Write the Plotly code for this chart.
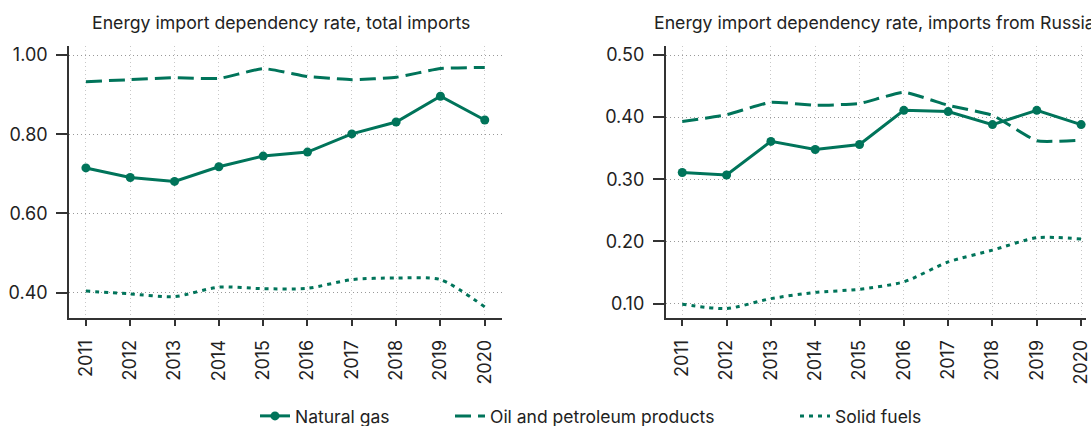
import plotly.graph_objects as go

# Years on the x axis
years = [2011, 2012, 2013, 2014, 2015, 2016, 2017, 2018, 2019, 2020]

# Energy import dependency rate, total imports
total_gas = [0.715, 0.691, 0.681, 0.718, 0.745, 0.755, 0.801, 0.831, 0.896, 0.836]
total_oil = [0.933, 0.938, 0.943, 0.941, 0.966, 0.946, 0.938, 0.944, 0.966, 0.969]
total_solid = [0.404, 0.397, 0.390, 0.414, 0.410, 0.411, 0.433, 0.437, 0.433, 0.364]

# Energy import dependency rate, imports from Russia
russia_gas = [0.311, 0.307, 0.361, 0.348, 0.356, 0.411, 0.409, 0.388, 0.411, 0.388]
russia_oil = [0.393, 0.404, 0.424, 0.419, 0.422, 0.440, 0.419, 0.403, 0.362, 0.363]
russia_solid = [0.099, 0.092, 0.108, 0.118, 0.123, 0.135, 0.167, 0.186, 0.206, 0.204]

series_names = ["Natural gas", "Oil and petroleum products", "Solid fuels"]
panel_titles = [
    "Energy import dependency rate, total imports",
    "Energy import dependency rate, imports from Russia",
]

W, H = 1091, 426
GREEN = "#00745a"
TEXT = "#222222"
FONT = "Inter, Liberation Sans, Arial, sans-serif"

fig = go.Figure()


def add_panel(gas, oil, solid, xa, ya, show):
    fig.add_trace(go.Scatter(
        x=years, y=gas, name=series_names[0], mode="lines+markers",
        line=dict(color=GREEN, width=3), marker=dict(size=9, color=GREEN),
        xaxis=xa, yaxis=ya, showlegend=show, legend="legend"))
    fig.add_trace(go.Scatter(
        x=years, y=oil, name=series_names[1], mode="lines",
        line=dict(color=GREEN, width=3, dash="16px,7px", shape="spline", smoothing=0.4),
        xaxis=xa, yaxis=ya, showlegend=show, legend="legend2"))
    fig.add_trace(go.Scatter(
        x=years, y=solid, name=series_names[2], mode="lines",
        line=dict(color=GREEN, width=3, dash="4px,5px", shape="spline", smoothing=0.7),
        xaxis=xa, yaxis=ya, showlegend=show, legend="legend3"))


add_panel(total_gas, total_oil, total_solid, "x", "y", True)
add_panel(russia_gas, russia_oil, russia_solid, "x2", "y2", False)

top, bottom = 46, 108
plot_h = H - top - bottom

xcommon = dict(
    tickmode="array", tickvals=years, ticktext=[str(y) for y in years],
    tickangle=-90, ticks="outside", ticklen=6, tickwidth=1.5, tickcolor="#333333",
    showline=True, linecolor="#333333", linewidth=1.5,
    showgrid=True, gridcolor="#c8c8c8", gridwidth=1, griddash="1px,3px",
    zeroline=False, tickfont=dict(size=18, color=TEXT, family=FONT),
    ticklabelstandoff=7, ticklabeloverflow="allow",
)
ycommon = dict(
    tickformat=".2f", ticks="outside", ticklen=11, tickwidth=1.5, tickcolor="#333333",
    showline=True, linecolor="#333333", linewidth=1.5,
    showgrid=True, gridcolor="#999999", gridwidth=1, griddash="1px,3px",
    zeroline=False, tickfont=dict(size=18, color=TEXT, family=FONT),
    ticklabelstandoff=5,
)

fig.update_layout(
    width=W, height=H,
    margin=dict(l=0, r=0, t=top, b=bottom),
    paper_bgcolor="white", plot_bgcolor="white",
    font=dict(family=FONT, color=TEXT, size=17),
    xaxis=dict(domain=[69.3 / W, 504 / W], range=[2010.618, 2020.382], anchor="y", **xcommon),
    yaxis=dict(domain=[0, 1], range=[0.336, 1.023], tick0=0.4, dtick=0.2, anchor="x", **ycommon),
    xaxis2=dict(domain=[668.7 / W, 1.0], range=[2010.625, 2020.11], anchor="y2", **xcommon),
    yaxis2=dict(domain=[0, 1], range=[0.0768, 0.5145], tick0=0.1, dtick=0.1, anchor="x2", **ycommon),
)

legend_style = dict(
    orientation="h", xref="container", yref="container",
    yanchor="middle", y=1 - 416 / H, xanchor="left",
    bgcolor="rgba(0,0,0,0)", font=dict(size=17.5, color=TEXT, family=FONT),
    itemwidth=30,
)
fig.update_layout(
    legend=dict(x=255 / W, **legend_style),
    legend2=dict(x=450 / W, **legend_style),
    legend3=dict(x=795 / W, **legend_style),
)

title_y = (H - bottom - 22) / plot_h
for text, xpx in zip(panel_titles, [90, 655]):
    fig.add_annotation(
        text=text, xref="paper", yref="paper", x=xpx / W, y=title_y,
        xanchor="left", yanchor="middle", showarrow=False,
        font=dict(size=17.7, color=TEXT, family=FONT),
    )

fig.write_html("out.html")
